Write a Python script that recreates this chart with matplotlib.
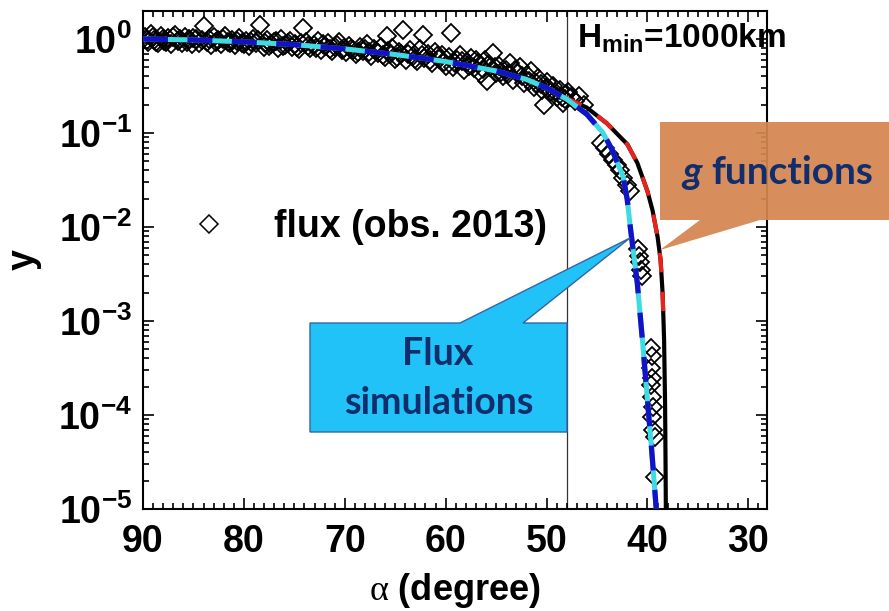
import numpy as np
import matplotlib
matplotlib.use('Agg')
import matplotlib.pyplot as plt
from matplotlib.patches import Polygon
from matplotlib.lines import Line2D
from matplotlib.ticker import MultipleLocator, LogLocator, FuncFormatter, NullFormatter

plt.rcParams.update({
    'font.family': 'Liberation Sans',
    'font.weight': 'bold',
    'axes.labelweight': 'bold',
    'mathtext.fontset': 'custom',
    'mathtext.rm': 'Liberation Serif:regular',
    'mathtext.bf': 'Liberation Sans:bold',
    'lines.scale_dashes': False,
})

##########################
# observed flux (2013)
obs_alpha = [
    89.8, 89.5, 89.2, 88.9, 88.5, 88.2, 87.9, 87.5, 87.2, 86.8, 86.5, 86.1, 85.8, 85.4, 85.1,
    84.7, 84.4, 84.0, 83.7, 83.3, 83.0, 82.6, 82.3, 81.9, 81.6, 81.2, 80.9, 80.5, 80.2,
    79.8, 79.5, 79.1, 78.8, 78.4, 78.0, 77.7, 77.3, 77.0, 76.6, 76.3, 75.9, 75.6, 75.2,
    74.9, 74.5, 74.1, 73.8, 73.4, 73.1, 72.7, 72.4, 72.0, 71.7, 71.3, 71.0, 70.6, 70.3,
    69.9, 69.6, 69.2, 68.9, 68.5, 68.2, 67.8, 67.4, 67.1, 66.7, 66.4, 66.0, 65.8, 65.7, 65.3, 65.0,
    64.6, 64.2, 63.9, 63.5, 63.2, 62.8, 62.5, 62.2, 62.1, 61.8, 61.4, 61.1, 60.7, 60.4, 60.0,
    59.7, 59.5, 59.3, 58.9, 58.6, 58.2, 57.9, 57.5, 57.2, 56.8, 56.5, 56.1, 55.9, 55.6, 55.3, 55.0,
    54.7, 54.3, 54.0, 53.6, 53.3, 52.9, 52.6, 52.2, 51.9, 51.5, 51.2, 50.8, 50.5, 50.3, 50.0,
    49.7, 49.4, 49.0, 48.7, 48.4, 48.1,
    47.9, 47.6, 47.2, 46.8, 46.3, 44.6, 44.2, 43.8, 43.4, 43.0, 42.7, 42.4, 42.0, 41.7,
    40.9, 40.8, 40.7, 40.6, 40.5,
    39.6, 39.5, 39.6, 39.5, 39.6, 39.5, 39.4, 39.5, 39.4, 39.3, 39.3,
    # second pass over the dense part
    89.6, 89.0, 88.7, 88.0, 87.7, 87.0, 86.3, 85.6, 85.0, 84.2, 83.5, 82.8, 82.1, 81.4,
    80.7, 80.0,
    79.3, 78.6, 77.9, 77.5, 76.8, 76.1, 75.4, 74.7, 74.3, 73.6, 72.9, 72.2, 71.5, 70.8,
    70.1,
    69.4, 68.7, 68.0, 67.6, 66.9, 66.2, 65.5, 64.8, 64.4, 63.7, 63.0, 62.3, 61.6, 60.9,
    60.2,
    59.1, 58.4, 57.7, 57.0, 56.3, 55.8, 55.1, 54.5, 53.8, 53.1, 52.4, 51.7, 51.0, 50.6,
    49.9, 49.2, 48.5, 48.2,
]
obs_y = [
    1.05, 0.93, 1.12, 0.97, 0.90, 1.08, 0.95, 1.02, 0.88, 1.10, 0.96, 0.91, 1.06, 0.99, 0.89,
    1.00, 0.90, 1.37, 0.94, 0.87, 1.04, 0.97, 0.89, 1.07, 0.92, 0.98, 0.86, 1.03, 0.91,
    0.96, 0.85, 1.01, 0.90, 1.40, 0.83, 0.97, 0.88, 0.93, 0.80, 0.99, 0.86, 0.91, 0.82,
    0.89, 0.78, 1.32, 0.92, 0.81, 0.86, 0.95, 0.76, 0.84, 0.90, 0.74, 0.82, 0.93, 0.77,
    0.72, 0.85, 0.76, 0.69, 0.82, 0.74, 0.88, 0.66, 0.78, 0.71, 0.83, 0.64, 1.08, 0.75, 0.80, 0.62,
    0.72, 1.26, 0.60, 0.76, 0.66, 0.58, 0.79, 1.10, 0.63, 0.70, 0.55, 0.73, 0.61, 0.67, 0.52,
    0.64, 1.17, 0.50, 0.60, 0.68, 0.47, 0.57, 0.63, 0.49, 0.55, 0.42, 0.60, 0.36, 0.50, 0.71, 0.44,
    0.52, 0.40, 0.47, 0.56, 0.37, 0.43, 0.50, 0.34, 0.41, 0.46, 0.31, 0.38, 0.29, 0.20, 0.35,
    0.27, 0.32, 0.24, 0.29, 0.21, 0.26,
    0.27, 0.24, 0.22, 0.25, 0.20, 0.079, 0.070, 0.060, 0.052, 0.046, 0.040, 0.033, 0.028, 0.024,
    0.0058, 0.0049, 0.0042, 0.0035, 0.0030,
    5.1e-4, 4.2e-4, 3.2e-4, 2.5e-4, 2.1e-4, 1.55e-4, 1.23e-4, 9.5e-5, 6.9e-5, 5.8e-5, 2.2e-5,
    0.98, 1.04, 0.94, 1.00, 0.92, 1.04, 1.01, 0.94, 1.02, 0.97, 1.01, 0.92, 0.99, 0.90,
    0.96, 0.89,
    0.93, 0.98, 0.90, 0.84, 0.95, 0.84, 0.95, 0.83, 0.90, 0.85, 0.80, 0.88, 0.79, 0.86,
    0.80,
    0.79, 0.73, 0.79, 0.72, 0.74, 0.68, 0.70, 0.65, 0.69, 0.70, 0.62, 0.67, 0.60, 0.66,
    0.57,
    0.55, 0.58, 0.52, 0.60, 0.48, 0.53, 0.50, 0.45, 0.42, 0.47, 0.40, 0.36, 0.34, 0.33,
    0.30, 0.27, 0.24, 0.23,
]

# simulated flux
sim_alpha = [90, 85, 80, 75, 70, 65, 60, 55, 52, 50, 48, 46, 44.4, 43.5, 42.4,
             42.0, 41.7, 41.0, 40.5, 40.0, 39.6, 39.2, 39.1]
sim_y = [1.0, 0.977, 0.933, 0.871, 0.785, 0.684, 0.575, 0.457, 0.372, 0.302, 0.229,
         0.158, 0.100, 0.066, 0.034, 0.0195, 0.010, 2.5e-3, 6.3e-4, 1.45e-4, 4.5e-5,
         1.26e-5, 8.9e-6]

# g functions
g_alpha = [90, 85, 80, 75, 70, 65, 60, 55, 52, 50, 48, 46, 44, 42, 41, 40, 39.5,
           39.0, 38.7, 38.5, 38.42, 38.35, 38.25, 38.2, 38.17]
g_y = [1.0, 0.977, 0.933, 0.871, 0.785, 0.684, 0.575, 0.457, 0.372, 0.302, 0.234,
       0.186, 0.126, 0.076, 0.048, 0.024, 0.0151, 0.0079, 0.0045, 0.002, 1.1e-3,
       6.3e-4, 1.26e-4, 2.5e-5, 7.9e-6]
g_red_min = 1e-3   # red dashes stop here

h_min_alpha = 48
##########################

W, H = 889, 611


def px(x, y):
    "pixel (from top-left) -> figure fraction"
    return (x / W, 1 - y / H)


fig = plt.figure(figsize=(W / 100, H / 100), dpi=100)
ax = fig.add_axes([143 / W, 1 - 509 / H, (767 - 143) / W, (509 - 10.7) / H])
ax.set_yscale('log')
ax.set_xlim(90, 28.15)
ax.set_ylim(1e-5, 2.0)

ax.axvline(h_min_alpha, color='#333333', lw=0.9, zorder=1)

ax.plot(obs_alpha, obs_y, ls='none', marker='D', ms=9, mfc='none', mec='k',
        mew=1.3, zorder=2)

g_alpha = np.array(g_alpha)
g_y = np.array(g_y)
red = g_y >= g_red_min
ax.plot(g_alpha, g_y, color='k', lw=3, zorder=3)
ax.plot(g_alpha[red], g_y[red], color='#e8231d', lw=3, dashes=(14, 14), zorder=4)

ax.plot(sim_alpha, sim_y, color='#3fdbe4', lw=3.6, zorder=5)
ax.plot(sim_alpha, sim_y, color='#1313c6', lw=3.8, dashes=(18, 14), zorder=6)

# axes, ticks
ax.xaxis.set_major_locator(MultipleLocator(10))
ax.xaxis.set_minor_locator(MultipleLocator(1))
ax.yaxis.set_major_locator(LogLocator(base=10, numticks=10))
ax.yaxis.set_minor_locator(LogLocator(base=10, subs=np.arange(2, 10), numticks=20))
ax.yaxis.set_minor_formatter(NullFormatter())
ax.yaxis.set_major_formatter(FuncFormatter(
    lambda v, p: r'$\mathbf{10^{%d}}$' % round(np.log10(v))))
ax.tick_params(which='both', direction='in', top=True, right=True, width=1.2,
               labelsize=27)
ax.tick_params(which='major', length=8)
ax.tick_params(which='minor', length=4)
ax.tick_params(axis='x', pad=11)
ax.tick_params(axis='y', pad=8)
for s in ax.spines.values():
    s.set_linewidth(1.5)

ax.set_xlabel(r'$\mathrm{\alpha}$ (degree)', fontsize=26, labelpad=8)
ax.set_ylabel('y', fontsize=27, labelpad=12)

handle = Line2D([], [], ls='none', marker='D', ms=9, mfc='none', mec='k', mew=1.1)
ax.legend([handle], ['flux (obs. 2013)'], loc='center left',
          bbox_to_anchor=px(190, 227), bbox_transform=fig.transFigure,
          frameon=False, fontsize=27, handlelength=1.0, handletextpad=1.25,
          borderpad=0, borderaxespad=0)

fig.text(*px(577, 38), r'H$_{\mathbf{min}}$=1000km', fontsize=24,
         ha='left', va='center')

# callouts
navy = '#112d6b'
orange = Polygon([px(660, 122), px(895, 122), px(895, 220), px(760, 220),
                  px(660, 250), px(700, 220), px(660, 220)],
                 closed=True, transform=fig.transFigure, facecolor='#d4864f',
                 edgecolor='none', alpha=0.93, zorder=10)
fig.add_artist(orange)
fig.text(*px(682, 172), 'g', fontsize=28, family='Lato', style='italic',
         weight='bold', color=navy, ha='left', va='center', zorder=11)
fig.text(*px(711, 172), 'functions', fontsize=28, family='Lato',
         weight='bold', color=navy, ha='left', va='center', zorder=11)

blue = Polygon([px(310, 323), px(460, 323), px(630, 238), px(523, 323),
                px(567, 323), px(567, 432), px(310, 432)],
               closed=True, transform=fig.transFigure, facecolor='#21c2f7',
               edgecolor='#3465a4', lw=1.0, zorder=10)
fig.add_artist(blue)
fig.text(*px(438, 354), 'Flux', fontsize=27, family='Lato', weight='bold',
         color=navy, ha='center', va='center', zorder=11)
fig.text(*px(439, 403), 'simulations', fontsize=27, family='Lato', weight='bold',
         color=navy, ha='center', va='center', zorder=11)

fig.savefig('out.png', dpi=100)
